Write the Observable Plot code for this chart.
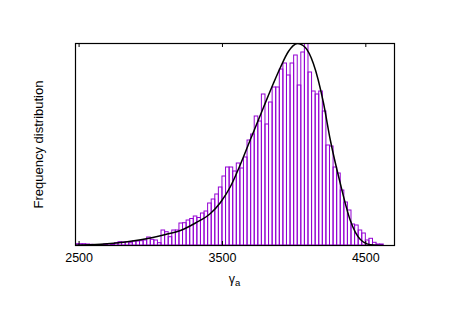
<!DOCTYPE html>
<html><head><meta charset="utf-8">
<script src="https://cdn.jsdelivr.net/npm/d3@7"></script>
<script src="https://cdn.jsdelivr.net/npm/@observablehq/plot@0.6"></script>
<style>body{margin:0;background:#fff}</style>
</head><body><div id="chart"></div>
<script>
const binStart = [2475,2500,2525,2550,2575,2600,2625,2650,2675,2700,2725,
  2750,2775,2800,2825,2850,2875,2900,2925,2950,2975,
  3000,3025,3050,3075,3100,3125,3150,3175,
  3200,3225,3250,3275,3300,3325,3350,3375,3400,3425,3450,3475,
  3500,3525,3550,3575,3600,3625,3650,3675,3700,3725,3750,3775,
  3800,3825,3850,3875,3900,3925,3950,3975,4000,4025,4050,4075,
  4100,4125,4150,4175,4200,4225,4250,4275,4300,4325,4350,4375,
  4400,4425,4450,4475,4500,4525,4550,4575,4600];
const binWidth = 25;
const freq = [1.3,1.3,1.3,1.0,0.7,0.5,0.5,0.5,1.0,1.5,1.0,
  2.3,3.3,3.0,3.3,2.3,4.0,4.0,4.3,5.0,8.0,
  5.7,5.0,2.3,15,13.3,8.3,15,15,
  22,22.3,25,26.5,29,27.5,32,34,42,46,51,58,
  69,78,78,74,82,77,88,105,111,129,124,151,
  121,143,158,158,176,182,170,182,190,160,193,212,
  173,154,151,154,134,100,99,78,72,55,43,35,
  21,20,15,12,5,6.7,2.7,1,1];
const fitX = [2475,2650,2824,2998,3103,3207,3312,3416,3486,3556,3625,3695,3786,3855,3904,3960,4023,4078,4134,4204,4253,4322,4392,4462,4533,4620];
const fitY = [0.3,1.2,3.5,7.5,11,15,22.5,32,43,59,81,106,138,162,178,194,202,198,182,143,105,62,25,6,0.8,0];
const xTicks = [2500, 3500, 4500];
const xLabelMain = "γ", xLabelSub = "a";
const yLabel = "Frequency distribution";

const bins = binStart.map((x0, i) => ({x0, x1: x0 + binWidth, f: freq[i]}));
const fit = fitX.map((x, i) => ({x, y: fitY[i]}));
const font = "'Liberation Sans', Arial, sans-serif";

const plot = Plot.plot({
  width: 457, height: 323,
  marginLeft: 75, marginRight: 63, marginTop: 43, marginBottom: 78,
  style: {fontFamily: font, fontSize: "12px", color: "black", background: "white"},
  x: {domain: [2475, 4700]},
  y: {domain: [0, 202], axis: null},
  marks: [
    Plot.rectY(bins, {x1: "x0", x2: "x1", y: "f", fill: "none", stroke: "#9400D3", strokeWidth: 1, clip: true}),
    Plot.line(fit, {x: "x", y: "y", stroke: "black", strokeWidth: 1.5, curve: "monotone-x", clip: true}),
    Plot.tickX(xTicks, {x: d => d, insetTop: 198, stroke: "black"}),
    Plot.tickX(xTicks, {x: d => d, insetBottom: 198, stroke: "black"}),
    Plot.axisX(xTicks, {tickSize: 0, tickPadding: 8, label: null, fontSize: 12.5, tickFormat: d => String(d)}),
    Plot.text([yLabel], {text: d => d, frameAnchor: "left", textAnchor: "middle", rotate: -90, dx: -37, fontSize: 13, fill: "black"}),
    Plot.frame({stroke: "black", strokeWidth: 1.2})
  ]
});

const t = d3.select(plot).append("text")
  .attr("x", 234.5).attr("y", 283)
  .attr("text-anchor", "middle")
  .attr("font-family", font).attr("font-size", 12.5).attr("fill", "black");
t.append("tspan").text(xLabelMain);
t.append("tspan").attr("font-size", 9.5).attr("dy", 3).text(xLabelSub);

document.getElementById("chart").appendChild(plot);
</script>
</body></html>
